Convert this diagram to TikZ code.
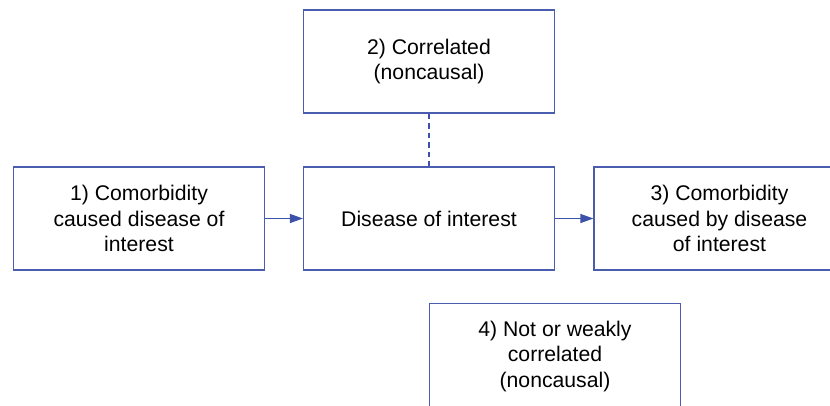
\documentclass[tikz,border=0pt]{standalone}
\usepackage{fontspec}
\setmainfont{Liberation Sans}
\usetikzlibrary{arrows.meta}
\definecolor{boxblue}{HTML}{4A5DAE}
\definecolor{arrblue}{HTML}{3C52A8}
\begin{document}
\begin{tikzpicture}[x=1pt,y=-1pt,
  box/.style={draw=boxblue,line width=1.2pt,fill=white,minimum width=251pt,minimum height=103pt,
    align=center,inner sep=0pt,font=\fontsize{21.2}{25.5}\selectfont,text=black},
  conn/.style={draw=arrblue,line width=1.2pt,-{Triangle[length=13pt,width=9pt]}},
  dashconn/.style={draw=arrblue,line width=1.2pt,dash pattern=on 5.5pt off 4pt}]
\useasboundingbox (0,0) rectangle (830,405);
\clip (0,0) rectangle (830,405);
\fill[white] (0,0) rectangle (830,405);
\node[box] (c1) at (139,218.5) {1) Comorbidity\\caused disease of\\interest};
\node[box] (dis) at (429,218.5) {Disease of interest};
\node[box] (c2) at (429,61.5) {2) Correlated\\(noncausal)};
\node[box] (c3) at (719.5,218.5) {3) Comorbidity\\caused by disease\\of interest};
\node[box,minimum height=106pt] (c4) at (555,356.5) {4) Not or weakly\\correlated\\(noncausal)};
\draw[conn] (c1.east) -- (dis.west);
\draw[conn] (dis.east) -- (c3.west);
\draw[dashconn] (c2.south) -- (dis.north);
\end{tikzpicture}
\end{document}
